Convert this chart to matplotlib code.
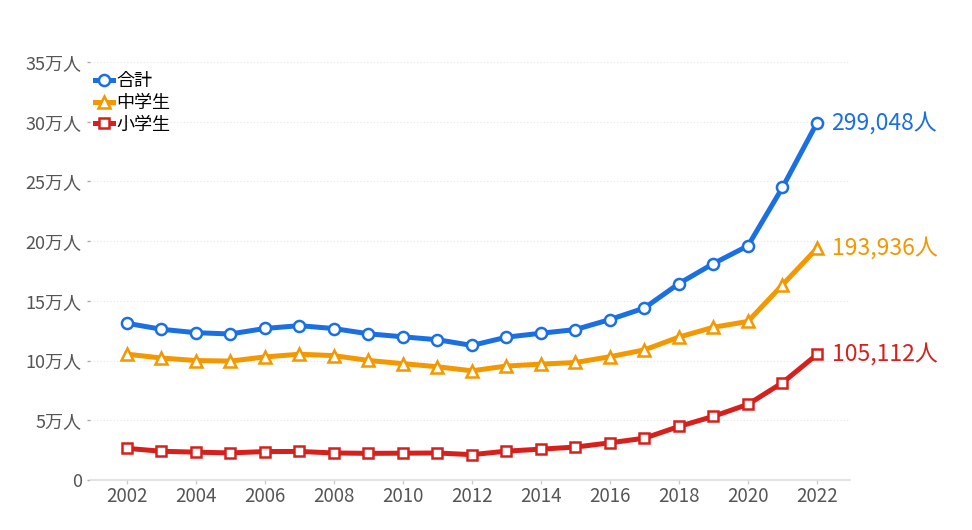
import matplotlib.pyplot as plt

plt.rcParams['font.family'] = ['Noto Sans CJK JP', 'DejaVu Sans']

years = list(range(2002, 2023))
elementary = [26511, 24077, 23318, 22709, 23825, 23927, 22652, 22327, 22463, 22622, 21243,
              24175, 25864, 27583, 31151, 35032, 44841, 53350, 63350, 81498, 105112]
junior = [105383, 102149, 100040, 99578, 103069, 105328, 104153, 100105, 97428, 94836, 91446,
          95442, 97033, 98408, 103235, 108999, 119687, 127922, 132777, 163442, 193936]
total = [131252, 126226, 123358, 122287, 126894, 129255, 126805, 122432, 119891, 117458, 112689,
         119617, 122897, 125991, 134386, 144031, 164528, 181272, 196127, 244940, 299048]

series = [("合計", total, "#1a6fe3", "o", 8),
          ("中学生", junior, "#f39800", "^", 9),
          ("小学生", elementary, "#d7201c", "s", 7.5)]

yticks = [0, 50000, 100000, 150000, 200000, 250000, 300000, 350000]
ylabels = ["0", "5万人", "10万人", "15万人", "20万人", "25万人", "30万人", "35万人"]
xticks = list(range(2002, 2023, 2))

fig = plt.figure(figsize=(9.72, 5.30), dpi=100)
ax = fig.add_axes([0.0926, 0.0943, 0.782, 0.7887])

for name, vals, c, m, ms in series:
    ax.plot(years, vals, color=c, lw=3.6, marker=m, ms=ms,
            mfc="white", mec=c, mew=1.8, label=name, clip_on=False, zorder=3)
    ax.annotate(f"{vals[-1]:,}人", (years[-1], vals[-1]), xytext=(10.5, 0),
                textcoords="offset points", color=c, fontsize=16.5, va="center", ha="left")

ax.set_xlim(2000.93, 2022.96)
ax.set_ylim(0, 350000)
ax.set_yticks(yticks)
ax.set_yticklabels(ylabels)
ax.set_xticks(xticks)
ax.yaxis.grid(True, color="#e6e6e6", lw=0.8, ls=(0, (1, 2)))
ax.set_axisbelow(True)
for s in ["top", "right", "left"]:
    ax.spines[s].set_visible(False)
ax.spines["bottom"].set_color("#dddddd")
ax.spines["bottom"].set_linewidth(1.2)
ax.tick_params(axis="y", length=2, width=1, color="#aaaaaa", labelsize=13, labelcolor="#555555", pad=4)
ax.tick_params(axis="x", length=3, width=1, color="#cccccc", labelsize=13.5, labelcolor="#555555", pad=1)

ax.legend(loc="upper left", bbox_to_anchor=(0.007, 0.975), frameon=False, fontsize=13,
          handlelength=1.0, handletextpad=0.15, labelspacing=0.2, borderaxespad=0.0,
          borderpad=0.0)

fig.savefig("out.png", dpi=100)
